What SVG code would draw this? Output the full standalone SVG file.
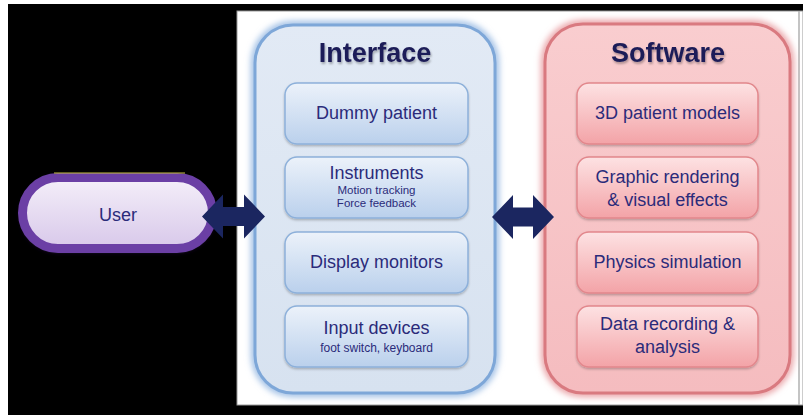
<svg xmlns="http://www.w3.org/2000/svg" width="803" height="415" viewBox="0 0 803 415">
<defs>
<linearGradient id="gUser" x1="0" y1="0" x2="0" y2="1"><stop offset="0" stop-color="#f4eff9"/><stop offset="1" stop-color="#d8c8ea"/></linearGradient>
<linearGradient id="gBlue" x1="0" y1="0" x2="0" y2="1"><stop offset="0" stop-color="#ecf2fa"/><stop offset="1" stop-color="#bad0ec"/></linearGradient>
<linearGradient id="gPink" x1="0" y1="0" x2="0" y2="1"><stop offset="0" stop-color="#fde2e3"/><stop offset="1" stop-color="#f3a3a7"/></linearGradient>
<linearGradient id="gIf" x1="0" y1="0" x2="0" y2="1"><stop offset="0" stop-color="#e2eaf5"/><stop offset="1" stop-color="#d7e2f0"/></linearGradient>
<linearGradient id="gSw" x1="0" y1="0" x2="0" y2="1"><stop offset="0" stop-color="#f9cdcf"/><stop offset="1" stop-color="#f5bcbf"/></linearGradient>
<filter id="glow" x="-10%" y="-10%" width="120%" height="120%"><feGaussianBlur stdDeviation="3"/></filter>
<filter id="tsh" x="-10%" y="-20%" width="120%" height="150%"><feDropShadow dx="1" dy="2" stdDeviation="1.2" flood-color="#000" flood-opacity="0.3"/></filter>
<filter id="bsh" x="-10%" y="-10%" width="120%" height="130%"><feDropShadow dx="0" dy="1.5" stdDeviation="1.2" flood-color="#000" flood-opacity="0.25"/></filter>
</defs>
<style>
.t{font-family:"Liberation Sans",Arial,sans-serif;text-anchor:middle;fill:#2b2b7a}
.title{font-size:27px;font-weight:bold;fill:#1e1e58}
.m{font-size:18px}
.s{font-size:11.5px}
.s2{font-size:12px}
.bb{fill:url(#gBlue);stroke:#8db0da;stroke-width:1.5}
.pb{fill:url(#gPink);stroke:#e2878c;stroke-width:1.5}
.arr{fill:#1b2660}
</style>
<rect x="0" y="0" width="803" height="415" fill="#ffffff"/>
<rect x="8" y="4" width="795" height="411" fill="#000000"/>
<rect x="237" y="11" width="566" height="394" fill="#ffffff" stroke="#9a9a9a" stroke-width="1"/>
<line x1="799" y1="11" x2="799" y2="405" stroke="#b0b0b0" stroke-width="1.5"/>

<g id="user">
<rect x="22.5" y="179" width="190" height="71" rx="35.5" fill="#4a2a80" filter="url(#glow)"/>
<rect x="22.5" y="177.5" width="190" height="71" rx="35.5" fill="url(#gUser)" stroke="#6b3fa5" stroke-width="9"/>
<line x1="54" y1="173" x2="185" y2="173" stroke="#c8c040" stroke-width="1"/>
<text class="t" x="118" y="221" font-size="18" fill="#3b2e88">User</text>
</g>

<g id="interface">
<rect x="255" y="25" width="240" height="368" rx="38" fill="none" stroke="#9dbde4" stroke-width="8" filter="url(#glow)"/>
<rect x="255" y="25" width="240" height="368" rx="38" fill="url(#gIf)" stroke="#7ea7d8" stroke-width="3"/>
<text class="t title" x="375" y="62" filter="url(#tsh)">Interface</text>
</g>
<g id="dummy-patient"><rect class="bb" x="285" y="83" width="183" height="61" rx="12" filter="url(#bsh)"/><text class="t m" x="376.5" y="119">Dummy patient</text></g>
<g id="instruments"><rect class="bb" x="285" y="157" width="183" height="61" rx="12" filter="url(#bsh)"/><text class="t m" x="376.5" y="179">Instruments</text><text class="t s" x="376.5" y="194">Motion tracking</text><text class="t s" x="376.5" y="206.5">Force feedback</text></g>
<g id="display-monitors"><rect class="bb" x="285" y="232" width="183" height="61" rx="12" filter="url(#bsh)"/><text class="t m" x="376.5" y="268">Display monitors</text></g>
<g id="input-devices"><rect class="bb" x="285" y="306" width="183" height="61" rx="12" filter="url(#bsh)"/><text class="t m" x="376.5" y="334">Input devices</text><text class="t s2" x="376.5" y="352">foot switch, keyboard</text></g>

<g id="software">
<rect x="545" y="24" width="245" height="369" rx="38" fill="none" stroke="#e9a0a4" stroke-width="8" filter="url(#glow)"/>
<rect x="545" y="24" width="245" height="369" rx="38" fill="url(#gSw)" stroke="#d97a80" stroke-width="3"/>
<text class="t title" x="668" y="62" filter="url(#tsh)">Software</text>
</g>
<g id="patient-models"><rect class="pb" x="577" y="83" width="181" height="61" rx="12" filter="url(#bsh)"/><text class="t m" x="667.5" y="119">3D patient models</text></g>
<g id="graphic-rendering"><rect class="pb" x="577" y="157" width="181" height="61" rx="12" filter="url(#bsh)"/><text class="t m" x="667.5" y="183">Graphic rendering</text><text class="t m" x="667.5" y="206">&amp; visual effects</text></g>
<g id="physics-simulation"><rect class="pb" x="577" y="232" width="181" height="61" rx="12" filter="url(#bsh)"/><text class="t m" x="667.5" y="268">Physics simulation</text></g>
<g id="data-recording"><rect class="pb" x="577" y="306" width="181" height="61" rx="12" filter="url(#bsh)"/><text class="t m" x="667.5" y="330">Data recording &amp;</text><text class="t m" x="667.5" y="353">analysis</text></g>

<g id="connectors">
<path class="arr" d="M202,216.5 L223,194.5 L223,207 L244,207 L244,194.5 L265,216.5 L244,238.5 L244,226 L223,226 L223,238.5 Z"/>
<path class="arr" d="M492,217 L513,195 L513,207.5 L533,207.5 L533,195 L554,217 L533,239 L533,226.5 L513,226.5 L513,239 Z"/>
</g>
</svg>
